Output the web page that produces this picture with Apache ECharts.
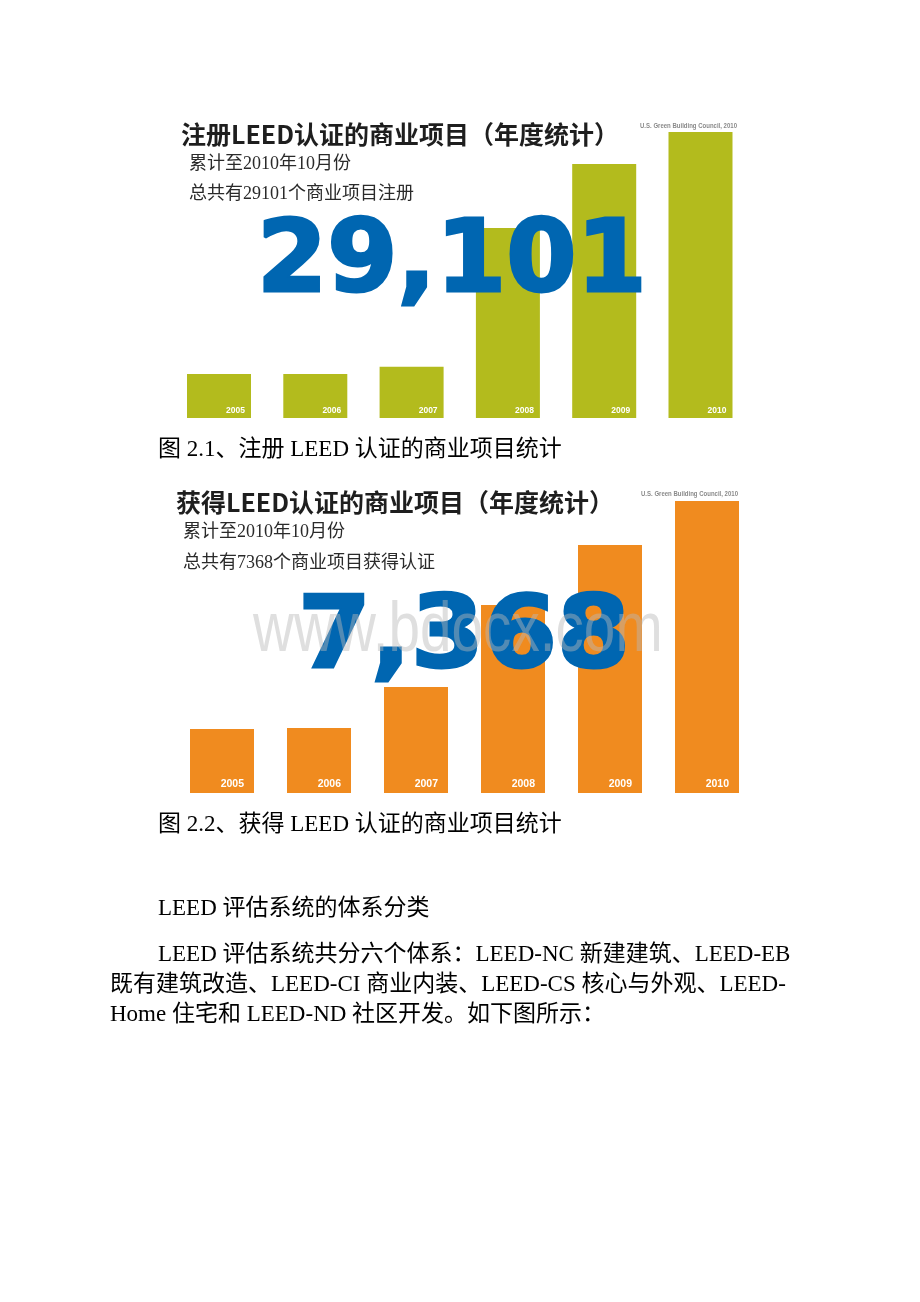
<!DOCTYPE html>
<html>
<head>
<meta charset="utf-8">
<script src="https://cdn.jsdelivr.net/npm/echarts@6/dist/echarts.min.js"></script>
<style>
html,body{margin:0;padding:0;background:#fff;}
#main{width:920px;height:1302px;}
</style>
</head>
<body>
<div id="main"></div>
<script>
// ---- data ----
const years = ['2005', '2006', '2007', '2008', '2009', '2010'];
const registered = [4480, 4480, 5220, 19330, 25850, 29101];
const certified = [1615, 1640, 2675, 4744, 6258, 7368];

const title1 = '注册LEED认证的商业项目（年度统计）';
const sub1a = '累计至2010年10月份';
const sub1b = '总共有29101个商业项目注册';
const big1 = '29,101';
const title2 = '获得LEED认证的商业项目（年度统计）';
const sub2a = '累计至2010年10月份';
const sub2b = '总共有7368个商业项目获得认证';
const big2 = '7,368';
const source = 'U.S. Green Building Council, 2010';
const caption1 = '图 2.1、注册 LEED 认证的商业项目统计';
const caption2 = '图 2.2、获得 LEED 认证的商业项目统计';
const heading = 'LEED 评估系统的体系分类';
const paraLines = [
  'LEED 评估系统共分六个体系：LEED-NC 新建建筑、LEED-EB',
  '既有建筑改造、LEED-CI 商业内装、LEED-CS 核心与外观、LEED-',
  'Home 住宅和 LEED-ND 社区开发。如下图所示：'
];
const watermark = 'www.bdocx.com';

// ---- styles ----
const GREEN = '#b3bb1d';
const ORANGE = '#f08b1f';
const BLUE = '#0066b1';
const CJK = "'Noto Sans CJK SC', sans-serif";
const SUBFONT = "'Liberation Serif', 'Noto Sans CJK SC', serif";
const DOCFONT = "'Liberation Serif', 'Noto Sans CJK SC', serif";

function txt(text, x, y, o) {
  o = o || {};
  const style = {
    text: text, x: 0, y: 0,
    fill: o.fill || '#000',
    fontSize: o.fontSize || 16,
    fontFamily: o.fontFamily || CJK,
    fontWeight: o.fontWeight || 'normal',
    textAlign: o.align || 'left',
    textVerticalAlign: o.valign || 'middle'
  };
  if (o.stroke) { style.stroke = o.stroke; style.lineWidth = o.lineWidth || 1; }
  return {
    type: 'text', x: x, y: y, z: o.z || 10,
    scaleX: o.scaleX || 1,
    style: style
  };
}

const chart = echarts.init(document.getElementById('main'), null, {renderer: 'canvas'});

const option = {
  backgroundColor: '#ffffff',
  animation: false,
  grid: [
    {left: 170.85, width: 577.8, top: 132, height: 286},
    {left: 173.5, width: 582, top: 501, height: 292}
  ],
  xAxis: [
    {type: 'category', gridIndex: 0, data: years, show: false},
    {type: 'category', gridIndex: 1, data: years, show: false}
  ],
  yAxis: [
    {type: 'value', gridIndex: 0, min: 0, max: 'dataMax', show: false, splitLine: {show: false}},
    {type: 'value', gridIndex: 1, min: 0, max: 'dataMax', show: false, splitLine: {show: false}}
  ],
  series: [
    {
      type: 'bar', xAxisIndex: 0, yAxisIndex: 0, data: registered,
      barWidth: 64, itemStyle: {color: GREEN},
      label: {
        show: true, position: 'insideBottomRight', distance: 5, offset: [-1, 2],
        formatter: '{b}', color: '#fff', fontSize: 8.5, fontWeight: 'bold',
        fontFamily: "'Liberation Sans', Arial, sans-serif"
      }
    },
    {
      type: 'bar', xAxisIndex: 1, yAxisIndex: 1, data: certified,
      barWidth: 64, itemStyle: {color: ORANGE},
      label: {
        show: true, position: 'insideBottomRight', distance: 5, offset: [-5, 2],
        formatter: '{b}', color: '#fff', fontSize: 10.5, fontWeight: 'bold',
        fontFamily: "'Liberation Sans', Arial, sans-serif"
      }
    }
  ],
  graphic: {
    elements: [
      // chart 1 texts
      txt(title1, 181, 134, {fontSize: 25, fontWeight: 'bold', fill: '#1e1e1e'}),
      txt(source, 640, 126, {fontSize: 7, fill: '#8a8a8a', fontFamily: "'Liberation Sans', sans-serif", fontWeight: 'bold', scaleX: 0.86}),
      txt(sub1a, 189, 164, {fontSize: 18, fill: '#2a2a2a', fontFamily: SUBFONT}),
      txt(sub1b, 189, 194, {fontSize: 18, fill: '#2a2a2a', fontFamily: SUBFONT}),
      txt(big1, 257, 265, {fontSize: 99, fontWeight: 'bold', fill: BLUE, stroke: BLUE, lineWidth: 3, fontFamily: "'DejaVu Sans', sans-serif", scaleX: 1.02, z: 50}),
      // chart 2 texts
      txt(title2, 176, 502, {fontSize: 25, fontWeight: 'bold', fill: '#1e1e1e'}),
      txt(source, 641, 494, {fontSize: 7, fill: '#8a8a8a', fontFamily: "'Liberation Sans', sans-serif", fontWeight: 'bold', scaleX: 0.86}),
      txt(sub2a, 183, 532, {fontSize: 18, fill: '#2a2a2a', fontFamily: SUBFONT}),
      txt(sub2b, 183, 563, {fontSize: 18, fill: '#2a2a2a', fontFamily: SUBFONT}),
      txt(big2, 298, 641, {fontSize: 99, fontWeight: 'bold', fill: BLUE, stroke: BLUE, lineWidth: 3, fontFamily: "'DejaVu Sans', sans-serif", scaleX: 1.06, z: 50}),
      txt(watermark, 253, 632, {fontSize: 70, fill: 'rgba(185,185,185,0.45)', fontFamily: "'Liberation Sans', sans-serif", scaleX: 0.81, z: 60}),
      // document text
      txt(caption1, 158, 450, {fontSize: 23, fontFamily: DOCFONT}),
      txt(caption2, 158, 825, {fontSize: 23, fontFamily: DOCFONT}),
      txt(heading, 158, 909, {fontSize: 23, fontFamily: DOCFONT}),
      txt(paraLines[0], 158, 955, {fontSize: 23, fontFamily: DOCFONT}),
      txt(paraLines[1], 110, 985, {fontSize: 23, fontFamily: DOCFONT}),
      txt(paraLines[2], 110, 1015, {fontSize: 23, fontFamily: DOCFONT})
    ]
  }
};
chart.setOption(option);
</script>
</body>
</html>
